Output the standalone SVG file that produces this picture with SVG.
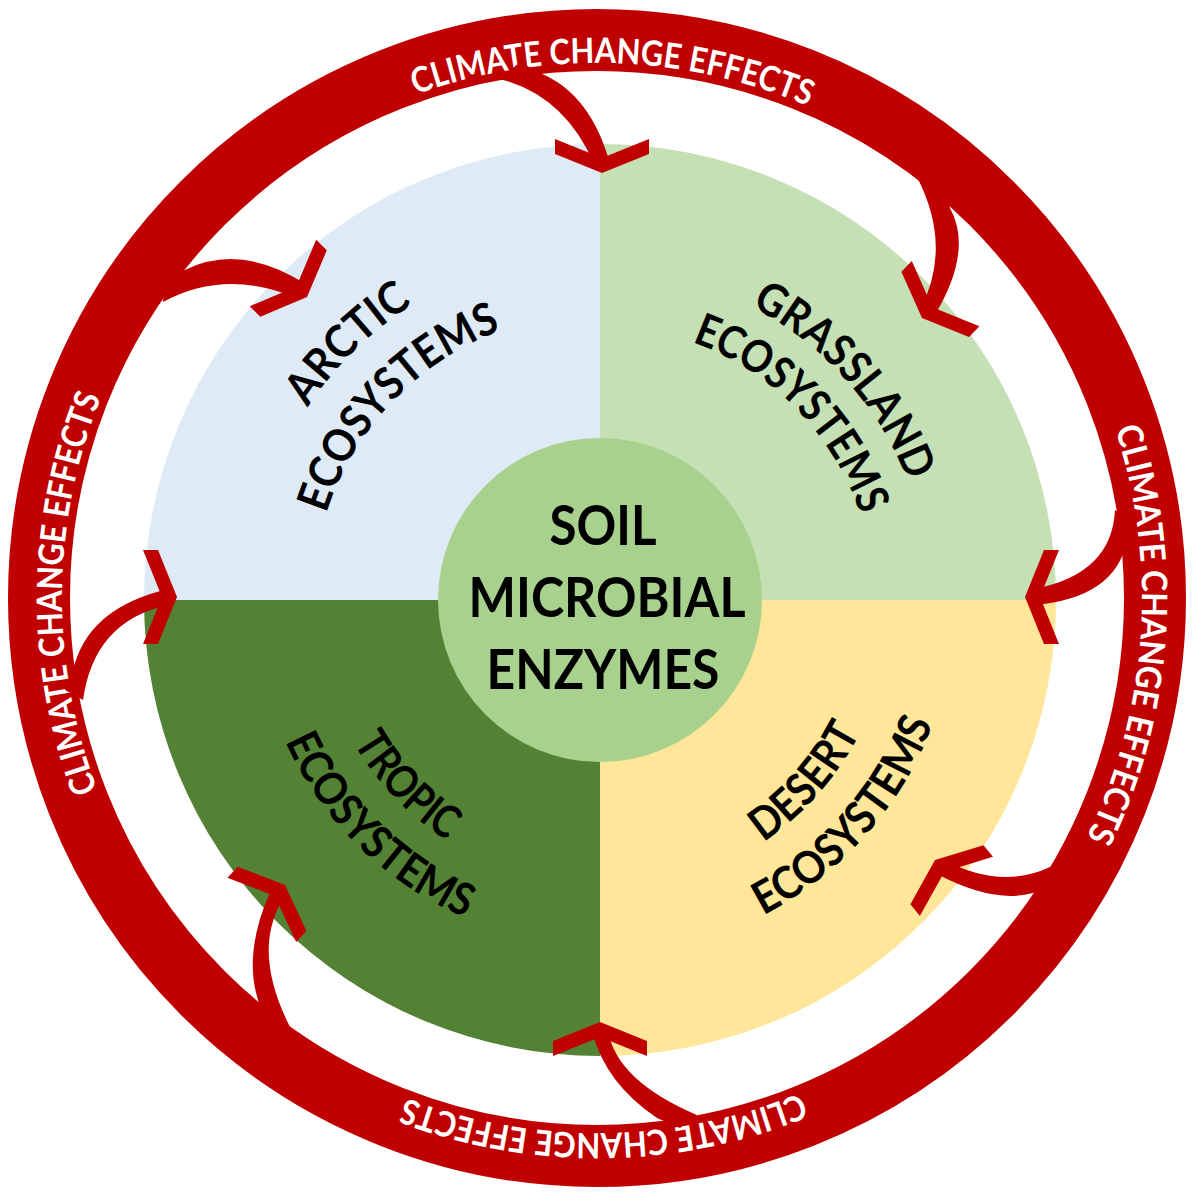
<svg xmlns="http://www.w3.org/2000/svg" width="1200" height="1200" viewBox="0 0 1200 1200">
<style>
.red{fill:#C00000}
.lbl{font-family:Lato,"Open Sans","Liberation Sans",sans-serif;font-weight:700;fill:#000;font-size:45px;text-anchor:middle}
.rt{font-family:Lato,"Open Sans","Liberation Sans",sans-serif;font-weight:700;fill:#fff;font-size:35px;text-anchor:middle}
.ctr{font-family:Lato,"Open Sans","Liberation Sans",sans-serif;font-weight:700;fill:#000;font-size:55px;text-anchor:middle}
</style>
<defs>
<path id="pArc1" d="M 251.1 627.5 A 350 350 0 0 1 633.5 251.6"/>
<path id="pArc2" d="M 314.7 631.5 A 287 287 0 0 1 618.5 313.6"/>
<path id="pGra1" d="M 589.1 270.2 A 330 330 0 0 1 926.7 646.5"/>
<path id="pGra2" d="M 579.7 326.8 A 274 274 0 0 1 872.6 627.5"/>
<path id="pTro1" d="M 316.7 569.2 A 285 285 0 0 0 618.9 884.4"/>
<path id="pTro2" d="M 256.0 573.5 A 345 345 0 0 0 633.7 943.4"/>
<path id="pDes1" d="M 592.4 891.9 A 292 292 0 0 0 888.8 556.8"/>
<path id="pDes2" d="M 590.7 954.9 A 355 355 0 0 0 951.1 547.5"/>
<path id="rTop" d="M 141.8 316.9 A 535 535 0 0 1 1068.1 344.4"/>
<path id="rRight" d="M 901.8 146.2 A 545 545 0 0 1 835.9 1087.8"/>
<path id="rBottom" d="M 1063.6 859.8 A 535 535 0 0 1 137.0 871.1"/>
<path id="rLeft" d="M 325.5 1059.0 A 535 535 0 0 1 333.6 132.4"/>
<polygon id="chev" points="0,0 -47,-19 -47,-34 0,-15 47,-34 47,-19"/>
</defs>
<rect width="1200" height="1200" fill="#fff"/>

<g id="arctic">
<path d="M600,600 L144,600 A456,456 0 0 1 600,144 Z" fill="#DEEBF7"/>
<text class="lbl"><textPath href="#pArc1" startOffset="50%" textLength="148" lengthAdjust="spacingAndGlyphs">ARCTIC</textPath></text>
<text class="lbl"><textPath href="#pArc2" startOffset="50%" textLength="262" lengthAdjust="spacingAndGlyphs">ECOSYSTEMS</textPath></text>
</g>
<g id="grassland">
<path d="M600,600 L600,144 A456,456 0 0 1 1056,600 Z" fill="#C5E0B4"/>
<text class="lbl"><textPath href="#pGra1" startOffset="50%" textLength="240" lengthAdjust="spacingAndGlyphs">GRASSLAND</textPath></text>
<text class="lbl"><textPath href="#pGra2" startOffset="50%" textLength="250" lengthAdjust="spacingAndGlyphs">ECOSYSTEMS</textPath></text>
</g>
<g id="desert">
<path d="M600,600 L1056,600 A456,456 0 0 1 600,1056 Z" fill="#FFE699"/>
<text class="lbl"><textPath href="#pDes1" startOffset="50%" textLength="148" lengthAdjust="spacingAndGlyphs">DESERT</textPath></text>
<text class="lbl"><textPath href="#pDes2" startOffset="50%" textLength="262" lengthAdjust="spacingAndGlyphs">ECOSYSTEMS</textPath></text>
</g>
<g id="tropic">
<path d="M600,600 L600,1056 A456,456 0 0 1 144,600 Z" fill="#548235"/>
<text class="lbl"><textPath href="#pTro1" startOffset="50%" textLength="136" lengthAdjust="spacingAndGlyphs">TROPIC</textPath></text>
<text class="lbl"><textPath href="#pTro2" startOffset="50%" textLength="258" lengthAdjust="spacingAndGlyphs">ECOSYSTEMS</textPath></text>
</g>
<g id="soil-microbial-enzymes">
<circle cx="600" cy="600" r="162" fill="#A9D18E"/>
<text class="ctr" x="603" y="545" textLength="107" lengthAdjust="spacingAndGlyphs">SOIL</text>
<text class="ctr" x="607" y="617" textLength="277" lengthAdjust="spacingAndGlyphs">MICROBIAL</text>
<text class="ctr" x="603" y="689" textLength="233" lengthAdjust="spacingAndGlyphs">ENZYMES</text>
</g>

<g id="climate-ring">
<circle cx="597" cy="598" r="558" fill="none" stroke="#C00000" stroke-width="62"/>
<text class="rt"><textPath href="#rTop" startOffset="50%" textLength="402" lengthAdjust="spacingAndGlyphs">CLIMATE CHANGE EFFECTS</textPath></text>
<text class="rt"><textPath href="#rRight" startOffset="50%" textLength="420" lengthAdjust="spacingAndGlyphs">CLIMATE CHANGE EFFECTS</textPath></text>
<text class="rt"><textPath href="#rBottom" startOffset="50%" textLength="404" lengthAdjust="spacingAndGlyphs">CLIMATE CHANGE EFFECTS</textPath></text>
<text class="rt"><textPath href="#rLeft" startOffset="50%" textLength="402" lengthAdjust="spacingAndGlyphs">CLIMATE CHANGE EFFECTS</textPath></text>
</g>

<g id="connectors" class="red">
<path d="M 500 79 Q 565 96 594 164 L 610 164 Q 591 94 540 73 L 520 62 Z"/>
<use href="#chev" transform="translate(602,173) rotate(0)"/>
<path d="M 163 302 Q 225 268 297 298 L 304 283 Q 240 243 185 270 L 165 280 Z"/>
<use href="#chev" transform="translate(307,297) rotate(-45)"/>
<path d="M 917 177 Q 953 247 920 310 L 936 313 Q 973 250 950 208 L 945 185 Z"/>
<use href="#chev" transform="translate(922,318) rotate(44)"/>
<path d="M 1115 510 Q 1112 574 1034 589 L 1034 605 Q 1116 598 1127 540 L 1135 520 Z"/>
<use href="#chev" transform="translate(1025,597) rotate(90)"/>
<path d="M 75 663 Q 92 607 168 589 L 168 605 Q 94 621 83 700 L 65 690 Z"/>
<use href="#chev" transform="translate(177,597) rotate(-90)"/>
<path d="M 1050 867 Q 1001 890 944 860 L 937 874 Q 994 904 1033 893 L 1055 885 Z"/>
<use href="#chev" transform="translate(935,860) rotate(141)"/>
<path d="M 258 1000 Q 243 952 271 890 L 287 893 Q 249 946 290 1027 L 265 1025 Z"/>
<use href="#chev" transform="translate(285,885) rotate(-137)"/>
<path d="M 657 1118 Q 605 1083 592 1031 L 608 1031 Q 617 1081 697 1115 L 680 1128 Z"/>
<use href="#chev" transform="translate(600,1022) rotate(180)"/>
</g>
</svg>
